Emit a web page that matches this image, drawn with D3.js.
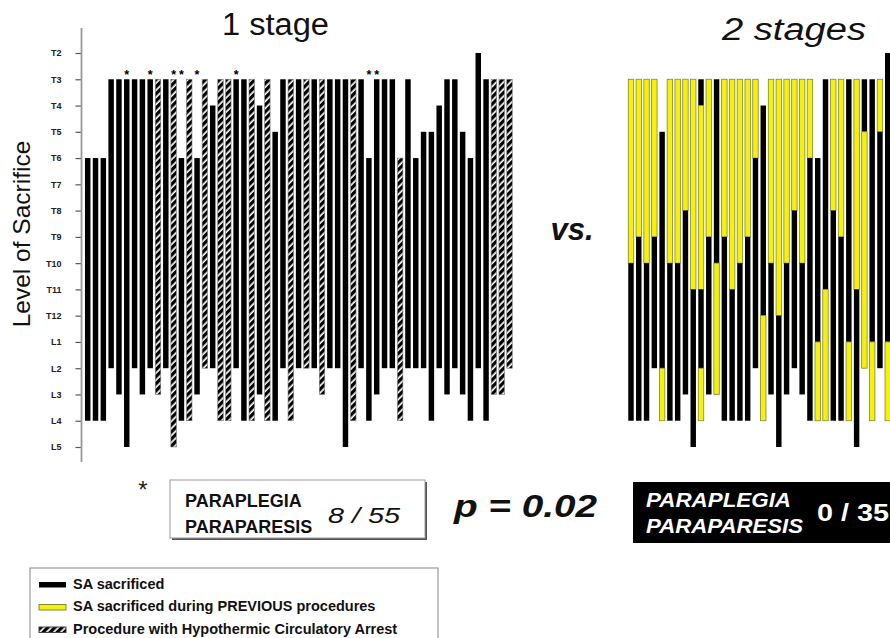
<!DOCTYPE html>
<html>
<head>
<meta charset="utf-8">
<script src="https://cdn.jsdelivr.net/npm/d3@7"></script>
<style>
  html, body { margin: 0; padding: 0; background: #fff; overflow: hidden; }
  svg { display: block; font-family: "Liberation Sans", Arial, sans-serif; }
</style>
</head>
<body>
<svg id="chart" width="890" height="638"></svg>
<script>
// Spinal levels, cranial to caudal
const levels = ["T2","T3","T4","T5","T6","T7","T8","T9","T10","T11","T12","L1","L2","L3","L4","L5"];

// One-stage repairs: cranial and caudal limit of segmental arteries sacrificed
const oneTop = ["T6","T6","T6","T3","T3","T3","T3","T3","T3","T3","T3","T3","T6","T3","T6","T3","T4","T3","T3","T3",
                "T3","T3","T4","T3","T5","T3","T3","T3","T3","T3","T3","T3","T3","T3","T3","T3","T6","T3","T3","T3",
                "T6","T3","T6","T5","T5","T4","T3","T3","T5","T6","T2","T3","T3","T3","T3"];
const oneBottom = ["L4","L4","L4","L2","L3","L5","L2","L3","L2","L3","L2","L5","L4","L4","L3","L2","L2","L4","L4","L2",
                   "L4","L4","L3","L4","L4","L2","L4","L2","L2","L2","L3","L2","L2","L5","L4","L2","L4","L3","L2","L2",
                   "L4","L2","L2","L2","L4","L2","L3","L2","L3","L4","L2","L4","L3","L3","L2"];
// Procedure with hypothermic circulatory arrest (1 = yes)
const oneHCA = [0,0,0,0,0,0,0,0,0,1,0,1,0,1,0,1,0,1,1,0,
                0,1,0,1,0,0,1,0,1,0,1,0,0,0,1,0,0,0,0,0,
                1,0,0,0,0,0,0,0,0,0,0,0,1,1,1];
// Paraplegia / paraparesis (1 = yes)
const oneSCI = [0,0,0,0,0,1,0,0,1,0,0,1,1,0,1,0,0,0,0,1,
                0,0,0,0,0,0,0,0,0,0,0,0,0,0,0,0,1,1,0,0,
                0,0,0,0,0,0,0,0,0,0,0,0,0,0,0];

// Two-stage repairs: segments [from, to, kind]; "prev" = sacrificed during previous procedure
const twoStage = [
  [["T3","T10","prev"],["T10","L4","now"]],
  [["T3","T9","prev"],["T9","L4","now"]],
  [["T3","T10","prev"],["T10","L4","now"]],
  [["T3","T9","prev"],["T9","L2","now"]],
  [["T5","L2","now"],["L2","L4","prev"]],
  [["T3","T10","prev"],["T10","L4","now"]],
  [["T3","T10","prev"],["T10","L4","now"]],
  [["T3","T8","prev"],["T8","L3","now"]],
  [["T3","T11","prev"],["T11","L5","now"]],
  [["T3","T4","now"],["T4","T11","prev"],["T11","L2","now"],["L2","L4","prev"]],
  [["T3","T9","prev"],["T9","L3","now"]],
  [["T3","T10","now"],["T10","L3","prev"]],
  [["T3","T9","prev"],["T9","L4","now"]],
  [["T3","T11","prev"],["T11","L4","now"]],
  [["T3","T10","prev"],["T10","L4","now"]],
  [["T3","T9","prev"],["T9","L4","now"]],
  [["T3","T6","prev"],["T6","L2","now"]],
  [["T4","T12","now"],["T12","L4","prev"]],
  [["T3","T10","prev"],["T10","L3","now"]],
  [["T3","T12","prev"],["T12","L5","now"]],
  [["T3","T10","prev"],["T10","L3","now"]],
  [["T3","T8","prev"],["T8","L2","now"]],
  [["T3","T10","prev"],["T10","L3","now"]],
  [["T3","T6","prev"],["T6","L4","now"]],
  [["T6","L1","now"],["L1","L4","prev"]],
  [["T3","T11","now"],["T11","L4","prev"]],
  [["T3","T8","prev"],["T8","L4","now"]],
  [["T3","T9","prev"],["T9","L4","now"]],
  [["T3","L1","now"],["L1","L4","prev"]],
  [["T3","T11","prev"],["T11","L5","now"]],
  [["T3","T5","now"],["T5","L2","prev"]],
  [["T3","L1","now"],["L1","L4","prev"]],
  [["T3","T5","prev"],["T5","L2","now"]],
  [["T2","L1","now"],["L1","L4","prev"]]
];
const twoStageCount = 35;

const legendItems = ["SA sacrificed", "SA sacrificed during PREVIOUS procedures", "Procedure with Hypothermic Circulatory Arrest"];

const YELLOW = "#f4f20c";
const YELLOW_EDGE = "#85853a";

const svg = d3.select("#chart");
const defs = svg.append("defs");

// diagonal stripes for circulatory-arrest cases
const pat = defs.append("pattern")
  .attr("id", "hca").attr("patternUnits", "userSpaceOnUse")
  .attr("width", 5).attr("height", 5)
  .attr("patternTransform", "rotate(45)");
pat.append("rect").attr("width", 5).attr("height", 5).attr("fill", "#fff");
pat.append("rect").attr("width", 3.3).attr("height", 5).attr("fill", "#000");

// vertical scale shared by both panels
const y = d3.scalePoint().domain(levels).range([53, 447]);

// axis
const axisG = svg.append("g").attr("transform", "translate(81.5,0)");
axisG.call(d3.axisLeft(y).tickSize(6).tickPadding(14));
axisG.select(".domain").remove();
axisG.selectAll(".tick line").attr("stroke", "#555").attr("stroke-width", 1.2);
axisG.selectAll(".tick text")
  .attr("font-family", "Liberation Sans, Arial, sans-serif")
  .attr("font-size", 9).attr("font-weight", "bold").attr("fill", "#222");
svg.append("line").attr("x1", 81.5).attr("x2", 81.5).attr("y1", 28).attr("y2", 462)
  .attr("stroke", "#999").attr("stroke-width", 1.8);

svg.append("text")
  .attr("transform", "translate(30,234) rotate(-90)")
  .attr("text-anchor", "middle").attr("font-size", 24.5).attr("fill", "#111")
  .text("Level of Sacrifice");

// ---- one-stage panel ----
const oneData = oneTop.map((t, i) => ({ i, top: t, bottom: oneBottom[i], hca: oneHCA[i], sci: oneSCI[i] }));
const x1 = d3.scaleBand().domain(d3.range(oneData.length)).range([83.8, 513.4])
  .paddingInner(0.3).paddingOuter(0.15);

svg.append("g").selectAll("rect").data(oneData).join("rect")
  .attr("x", d => x1(d.i)).attr("width", x1.bandwidth())
  .attr("y", d => y(d.top)).attr("height", d => y(d.bottom) - y(d.top))
  .attr("fill", d => d.hca ? "url(#hca)" : "#000")
  .attr("stroke", d => d.hca ? "#777" : "none").attr("stroke-width", 0.6);

svg.append("g").selectAll("text").data(oneData.filter(d => d.sci)).join("text")
  .attr("x", d => x1(d.i) + x1.bandwidth() / 2).attr("y", 79)
  .attr("text-anchor", "middle").attr("font-size", 12.5).attr("font-weight", "bold")
  .attr("fill", "#000")
  .text("*");

svg.append("text").attr("x", 222).attr("y", 35)
  .attr("font-size", 31).attr("fill", "#111")
  .attr("textLength", 107).attr("lengthAdjust", "spacingAndGlyphs").text("1 stage");

// ---- two-stage panel ----
const x2 = d3.scaleBand().domain(d3.range(twoStageCount)).range([627.1, 899.4])
  .paddingInner(0.3).paddingOuter(0.15);
const segs = twoStage.flatMap((p, i) => p.map(s => ({ i, from: s[0], to: s[1], kind: s[2] })));
svg.append("g").selectAll("rect").data(segs).join("rect")
  .attr("x", d => x2(d.i)).attr("width", x2.bandwidth())
  .attr("y", d => y(d.from)).attr("height", d => y(d.to) - y(d.from))
  .attr("fill", d => d.kind === "prev" ? YELLOW : "#000")
  .attr("stroke", d => d.kind === "prev" ? YELLOW_EDGE : "none").attr("stroke-width", 0.8);

svg.append("text").attr("x", 722).attr("y", 40)
  .attr("font-size", 31).attr("font-style", "italic").attr("fill", "#111")
  .attr("textLength", 144).attr("lengthAdjust", "spacingAndGlyphs").text("2 stages");

svg.append("text").attr("x", 572).attr("y", 240).attr("text-anchor", "middle")
  .attr("font-size", 31).attr("font-style", "italic").attr("font-weight", "bold").attr("fill", "#111").text("vs.");

// ---- outcome boxes ----
svg.append("text").attr("x", 143).attr("y", 498).attr("text-anchor", "middle")
  .attr("font-size", 24).attr("fill", "#222").text("*");
svg.append("rect").attr("x", 172).attr("y", 482).attr("width", 255).attr("height", 58).attr("fill", "#555");
svg.append("rect").attr("x", 170).attr("y", 480).attr("width", 255).attr("height", 58)
  .attr("fill", "#fff").attr("stroke", "#999").attr("stroke-width", 1);
const box1 = svg.append("g").attr("font-weight", "bold").attr("font-size", 18).attr("fill", "#111");
box1.append("text").attr("x", 185).attr("y", 507).text("PARAPLEGIA");
box1.append("text").attr("x", 185).attr("y", 533).text("PARAPARESIS");
svg.append("text").attr("x", 328).attr("y", 523)
  .attr("font-size", 22).attr("font-style", "italic").attr("fill", "#111")
  .attr("textLength", 72).attr("lengthAdjust", "spacingAndGlyphs").text("8 / 55");

svg.append("text").attr("x", 454).attr("y", 517)
  .attr("font-size", 31).attr("font-style", "italic").attr("font-weight", "bold").attr("fill", "#111")
  .attr("textLength", 143).attr("lengthAdjust", "spacingAndGlyphs").text("p = 0.02");

svg.append("rect").attr("x", 633).attr("y", 482).attr("width", 270).attr("height", 61).attr("fill", "#000");
const box2 = svg.append("g").attr("font-weight", "bold").attr("font-style", "italic").attr("font-size", 21).attr("fill", "#fff");
box2.append("text").attr("x", 646).attr("y", 507)
  .attr("textLength", 145).attr("lengthAdjust", "spacingAndGlyphs").text("PARAPLEGIA");
box2.append("text").attr("x", 646).attr("y", 533)
  .attr("textLength", 157).attr("lengthAdjust", "spacingAndGlyphs").text("PARAPARESIS");
svg.append("text").attr("x", 817).attr("y", 521)
  .attr("font-size", 24).attr("font-weight", "bold").attr("fill", "#fff")
  .attr("textLength", 72).attr("lengthAdjust", "spacingAndGlyphs").text("0 / 35");

// ---- legend ----
svg.append("rect").attr("x", 30).attr("y", 568).attr("width", 408).attr("height", 80)
  .attr("fill", "#fff").attr("stroke", "#888").attr("stroke-width", 1);
const lg = svg.append("g").selectAll("g").data(legendItems).join("g")
  .attr("transform", (d, i) => `translate(39,${582 + i * 22.5})`);
lg.append("rect").attr("x", 0).attr("y", 0).attr("width", 27).attr("height", 5.5)
  .attr("fill", (d, i) => i === 0 ? "#000" : i === 1 ? YELLOW : "url(#hca)")
  .attr("stroke", (d, i) => i === 1 ? YELLOW_EDGE : i === 2 ? "#444" : "none")
  .attr("stroke-width", 1);
lg.append("text").attr("x", 34).attr("y", 6.5).attr("font-size", 14.5).attr("font-weight", "bold")
  .attr("fill", "#111").text(d => d);
</script>
</body>
</html>
